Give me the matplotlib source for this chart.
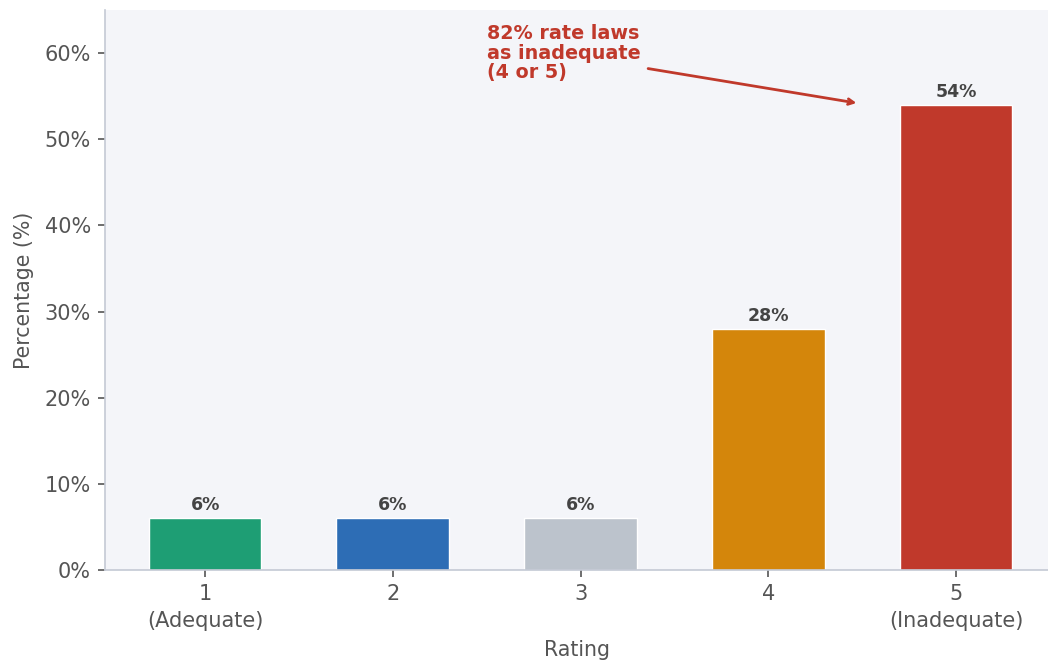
import matplotlib.pyplot as plt
from matplotlib.ticker import FuncFormatter

ratings = [1, 2, 3, 4, 5]
tick_labels = ['1\n(Adequate)', '2', '3', '4', '5\n(Inadequate)']
pct = [6, 6, 6, 28, 54]
bar_colors = ['#1e9e74', '#2d6db5', '#bcc3cc', '#d4860b', '#c0392b']

fig = plt.figure(figsize=(10.48, 6.61), dpi=100)
ax = fig.add_axes([0.1002, 0.1377, 0.8998, 0.8472])
ax.set_facecolor('#f4f5f9')

x = list(range(len(ratings)))
bars = ax.bar(x, pct, width=0.6, color=bar_colors, edgecolor='white', linewidth=1)

for b, v in zip(bars, pct):
    ax.text(b.get_x() + b.get_width() / 2, v + 0.45, '{}%'.format(v),
            ha='center', va='bottom', fontsize=12.5, fontweight='bold', color='#444444')

ax.set_ylim(0, 65)
ax.set_xlim(-0.533, 4.49)
ax.set_yticks(range(0, 61, 10))
ax.yaxis.set_major_formatter(FuncFormatter(lambda v, p: '{:.0f}%'.format(v)))
ax.set_xticks(x)
ax.set_xticklabels(tick_labels)
for lbl in ax.get_xticklabels():
    lbl.set_linespacing(1.45)

ax.tick_params(labelsize=15, colors='#555555', length=5, width=1.2, pad=5)
ax.set_ylabel('Percentage (%)', fontsize=14.8, color='#555555', labelpad=8)
ax.set_xlabel('Rating', fontsize=14.8, color='#555555', labelpad=6.5)

for s in ['top', 'right']:
    ax.spines[s].set_visible(False)
for s in ['left', 'bottom']:
    ax.spines[s].set_color('#c4c9d4')
    ax.spines[s].set_linewidth(1.2)

# callout for the share rating 4 or 5
ax.text(1.50, 60.0, '82% rate laws\nas inadequate\n(4 or 5)', ha='left', va='center',
        fontsize=13.8, fontweight='bold', color='#c0392b', linespacing=1.02)
ax.annotate('', xy=(3.47, 54.2), xytext=(2.36, 58.2),
            arrowprops=dict(arrowstyle='->', color='#c0392b', lw=2, shrinkA=0, shrinkB=0))

fig.savefig('out.png', dpi=100)
